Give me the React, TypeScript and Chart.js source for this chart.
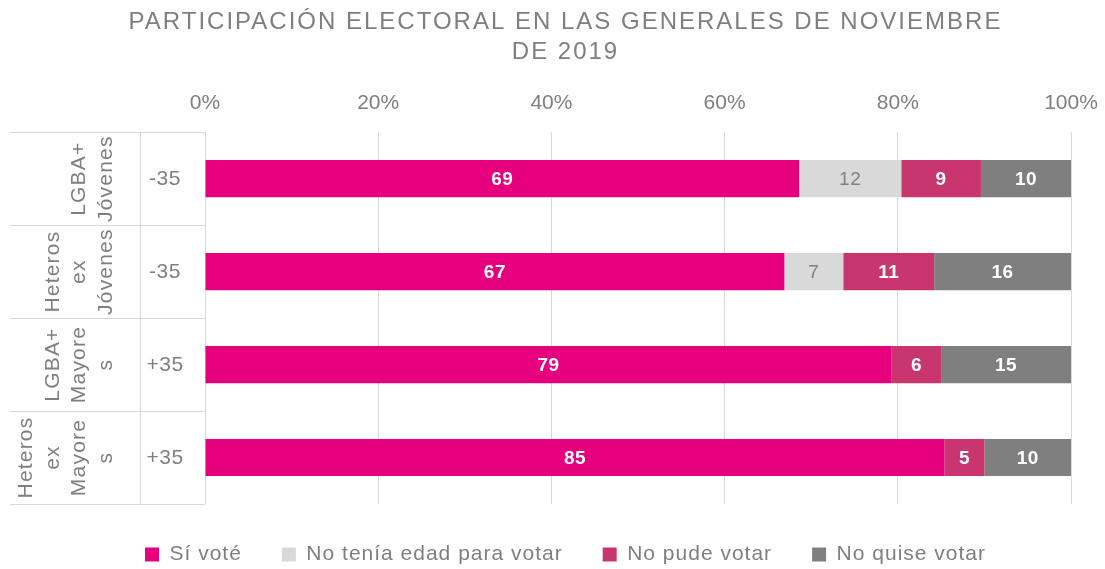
import React, { useEffect, useRef } from "react";
import { Chart, registerables } from "chart.js";

Chart.register(...registerables);

const categories = ["-35", "-35", "+35", "+35"];
const groupLabels = [
  ["LGBA+", "Jóvenes"],
  ["Heteros", "ex", "Jóvenes"],
  ["LGBA+", "Mayore", "s"],
  ["Heteros", "ex", "Mayore", "s"],
];
const siVote = [68.6, 66.9, 79.3, 85.4];
const sinEdad = [11.8, 6.8, null, null];
const noPude = [9.2, 10.5, 5.7, 4.6];
const noQuise = [10.4, 15.8, 15.0, 10.0];
const seriesNames = ["Sí voté", "No tenía edad para votar", "No pude votar", "No quise votar"];
const titleLines = ["PARTICIPACIÓN ELECTORAL EN LAS GENERALES DE NOVIEMBRE", "DE 2019"];

const COLORS = ["#E6007E", "#D9D9D9", "#C9356F", "#7F7F7F"];
const LABEL_COLORS = ["#FFFFFF", "#7F7F7F", "#FFFFFF", "#FFFFFF"];
const TEXT = "#7F7F7F";
const FONT = "'Liberation Sans', Arial, sans-serif";

const valueLabels = {
  id: "valueLabels",
  afterDatasetsDraw(chart: any) {
    const ctx = chart.ctx;
    ctx.save();
    ctx.textAlign = "center";
    ctx.textBaseline = "middle";
    ctx.letterSpacing = "0.5px";
    chart.data.datasets.forEach((ds: any, di: number) => {
      const meta = chart.getDatasetMeta(di);
      meta.data.forEach((el: any, i: number) => {
        const v = ds.data[i];
        if (v == null || v === 0) return;
        const cx = (el.x + el.base) / 2;
        ctx.fillStyle = LABEL_COLORS[di];
        ctx.font = (di === 1 ? "" : "bold ") + "19px " + FONT;
        ctx.fillText(String(Math.round(v)), cx, el.y + 1);
      });
    });
    ctx.restore();
  },
};

const leftAxis = {
  id: "leftAxis",
  afterDraw(chart: any) {
    const ctx = chart.ctx;
    const y = chart.scales.y;
    const left = chart.chartArea.left;
    const n = categories.length;
    const c0 = y.getPixelForValue(0);
    const c1 = y.getPixelForValue(1);
    const step = c1 - c0;
    ctx.save();
    ctx.strokeStyle = "#D9D9D9";
    ctx.lineWidth = 1;
    for (let i = 0; i <= n; i++) {
      const yy = Math.round(c0 - step / 2 + i * step) + 0.5;
      ctx.beginPath();
      ctx.moveTo(10, yy);
      ctx.lineTo(left, yy);
      ctx.stroke();
    }
    const top = c0 - step / 2;
    const bottom = c0 - step / 2 + n * step;
    ctx.beginPath();
    ctx.moveTo(140.5, top);
    ctx.lineTo(140.5, bottom);
    ctx.stroke();

    ctx.fillStyle = TEXT;
    ctx.textAlign = "center";
    ctx.textBaseline = "middle";
    for (let i = 0; i < n; i++) {
      const cy = y.getPixelForValue(i);
      ctx.letterSpacing = "0.5px";
      ctx.font = "21px " + FONT;
      ctx.fillText(categories[i], 165, cy + 1);
      const lines = groupLabels[i];
      ctx.letterSpacing = "1.2px";
      lines.forEach((ln, li) => {
        const x = 106 - (lines.length - 1 - li) * 26.5;
        ctx.save();
        ctx.translate(x, cy);
        ctx.rotate(-Math.PI / 2);
        ctx.fillText(ln, 0, 0);
        ctx.restore();
      });
    }
    ctx.restore();
  },
};

function withSpacing(obj: any, method: string, spacing: string) {
  const orig = obj[method];
  obj[method] = function (...args: any[]) {
    const c = this.ctx;
    const prev = c.letterSpacing;
    c.letterSpacing = spacing;
    const r = orig.apply(this, args);
    c.letterSpacing = prev;
    return r;
  };
}

export default function App() {
  const ref = useRef<HTMLCanvasElement>(null);
  useEffect(() => {
    if (!ref.current) return;
    const dataArrays = [siVote, sinEdad, noPude, noQuise];
    const chart: any = new Chart(ref.current, {
      type: "bar",
      data: {
        labels: categories,
        datasets: dataArrays.map((d, i) => ({
          label: seriesNames[i],
          data: d,
          backgroundColor: COLORS[i],
          borderWidth: 0,
          barPercentage: 0.4,
          categoryPercentage: 1,
        })),
      },
      options: {
        indexAxis: "y",
        animation: false,
        responsive: false,
        maintainAspectRatio: false,
        layout: { padding: { left: 26, right: 0, top: 0, bottom: -6 } },
        scales: {
          x: {
            position: "top",
            stacked: true,
            min: 0,
            max: 100,
            ticks: {
              stepSize: 20,
              color: TEXT,
              font: { family: FONT, size: 21 },
              padding: 0,
              callback: (v: any) => v + "%",
            },
            grid: { color: "#D9D9D9", drawTicks: true, tickLength: 16, tickColor: "rgba(0,0,0,0)" },
            border: { display: false },
          },
          y: {
            stacked: true,
            display: true,
            ticks: { display: false },
            grid: { display: false, drawTicks: false },
            border: { display: false },
            afterFit: (s: any) => {
              s.width = 179;
            },
          },
          y2: {
            type: "category",
            position: "right",
            display: true,
            ticks: { display: false },
            grid: { display: false, drawTicks: false },
            border: { display: false },
            afterFit: (s: any) => {
              s.width = 34;
            },
          },
        },
        plugins: {
          title: {
            display: true,
            text: titleLines,
            color: TEXT,
            font: { family: FONT, size: 24, weight: "normal", lineHeight: 1.25 },
            padding: { top: 7, bottom: 24 },
          },
          legend: {
            position: "bottom",
            labels: {
              color: TEXT,
              font: { family: FONT, size: 21 },
              boxWidth: 14,
              boxHeight: 14,
              padding: 40,
            },
          },
          tooltip: { enabled: false },
        },
      },
      plugins: [valueLabels, leftAxis],
    });
    if (chart.titleBlock) withSpacing(chart.titleBlock, "draw", "2px");
    if (chart.legend) {
      withSpacing(chart.legend, "fit", "1px");
      withSpacing(chart.legend, "draw", "1px");
    }
    chart.update();
    return () => chart.destroy();
  }, []);
  return (
    <div style={{ position: "fixed", left: 0, top: 0, width: 1105, height: 569, background: "#fff" }}>
      <canvas ref={ref} width={1105} height={569} style={{ width: 1105, height: 569 }} />
    </div>
  );
}
